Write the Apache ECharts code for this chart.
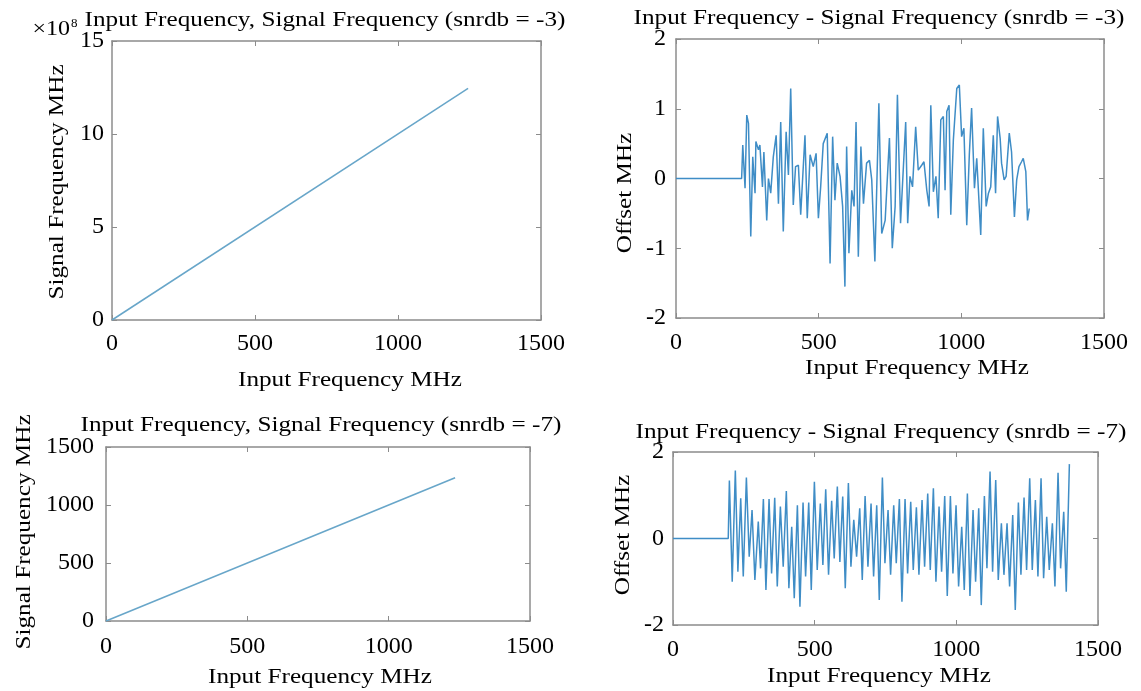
<!DOCTYPE html>
<html>
<head>
<meta charset="utf-8">
<title>Input Frequency / Signal Frequency</title>
<script src="https://cdn.jsdelivr.net/npm/echarts@6/dist/echarts.min.js"></script>
<style>
html,body{margin:0;padding:0;background:#fff}
#main{width:1141px;height:691px}
</style>
</head>
<body>
<div id="main"></div>
<script>
// straight lines: input MHz -> signal frequency (ends)
var lineInput3 = [0, 1245]
var lineSignal3 = [0, 1.245e9]      // Hz, axis shows x10^8
var lineInput7 = [0, 1235]
var lineSignal7 = [0, 1235]

// offset traces, snrdb = -3
var offFreq3 = [0, 230, 234, 242, 248, 254, 262, 269, 277, 280,
  289, 294, 303, 308, 318, 324, 332, 341, 351, 359,
  367, 376, 386, 394, 402, 411, 419, 429, 437, 452,
  460, 470, 481, 491, 499, 507, 516, 530, 540, 549,
  557, 565, 575, 584, 592, 598, 606, 616, 624, 631,
  639, 648, 657, 668, 678, 686, 697, 711, 721, 733,
  748, 758, 768, 776, 787, 797, 805, 812, 820, 829,
  840, 849, 861, 869, 879, 887, 893, 902, 911, 919,
  928, 937, 943, 949, 957, 963, 972, 984, 993, 1001,
  1009, 1019, 1028, 1036, 1046, 1054, 1068, 1077, 1087, 1095,
  1103, 1112, 1120, 1127, 1136, 1141, 1150, 1157, 1168, 1176,
  1186, 1194, 1202, 1211, 1217, 1226, 1232, 1238]
var offVal3 = [0, 0, 0.48, -0.14, 0.91, 0.79, -0.83, 0.31, -0.21, 0.53,
  0.41, 0.48, -0.12, 0.38, -0.60, 0.0, -0.21, 0.31, 0.62, -0.36,
  0.81, -0.76, 0.67, 0.05, 1.29, -0.38, 0.17, 0.19, -0.52, 0.62,
  -0.57, 0.34, 0.17, 0.36, -0.57, -0.12, 0.50, 0.65, -1.22, 0.60,
  -0.31, 0.22, 0.03, -0.40, -1.55, 0.46, -1.07, -0.17, -0.40, 0.81,
  -1.12, 0.46, -0.36, 0.22, 0.26, -0.02, -1.19, 1.08, -0.79, -0.60,
  0.58, -1.00, -0.40, 1.20, -0.64, 0.17, 0.81, -0.64, 0.03, -0.12,
  0.74, 0.12, 0.19, 0.24, -0.17, -0.40, 1.05, -0.19, 0.03, -0.57,
  0.84, 0.89, -0.17, 0.96, 1.05, -0.52, 0.55, 1.29, 1.34, 0.60,
  0.72, -0.67, 0.34, 1.01, -0.14, 0.29, -0.81, 0.72, -0.40, -0.21,
  -0.12, 0.62, -0.21, 0.89, 0.58, 0.22, -0.02, 0.03, 0.65, 0.38,
  -0.55, -0.02, 0.17, 0.24, 0.29, 0.10, -0.60, -0.43]

// offset traces, snrdb = -7
var offFreq7 = [0, 195, 199, 209, 220, 229, 239, 248, 259, 269,
  279, 289, 301, 309, 319, 328, 339, 348, 359, 368,
  379, 389, 400, 409, 419, 428, 439, 448, 459, 468,
  479, 488, 499, 509, 520, 529, 539, 549, 560, 569,
  580, 589, 599, 608, 619, 628, 638, 648, 659, 668,
  678, 688, 699, 708, 719, 728, 739, 748, 759, 768,
  779, 788, 799, 808, 819, 828, 839, 848, 859, 868,
  879, 888, 899, 908, 919, 928, 939, 948, 959, 968,
  979, 988, 999, 1008, 1019, 1028, 1039, 1048, 1059, 1068,
  1079, 1088, 1099, 1108, 1119, 1128, 1139, 1148, 1159, 1168,
  1179, 1188, 1199, 1208, 1219, 1228, 1239, 1248, 1259, 1268,
  1279, 1288, 1299, 1308, 1319, 1328, 1339, 1348, 1359, 1368,
  1379, 1388, 1399]
var offVal7 = [0, 0, 1.34, -1.00, 1.57, -0.77, 0.93, -0.88, 1.41, -0.42,
  0.66, -0.96, 0.39, -0.69, 0.91, -1.19, 0.91, -0.81, 0.94, -1.11,
  0.74, -0.65, 1.10, -1.15, 0.27, -1.38, 0.77, -1.58, 0.83, -0.88,
  0.83, -1.19, 1.31, -0.73, 0.81, -0.61, 1.14, -0.84, 0.87, -0.46,
  1.20, -0.54, 0.97, -1.15, 1.28, -0.65, 0.43, -0.42, 0.70, -0.96,
  0.98, -0.65, 0.81, -0.88, 0.77, -1.42, 1.41, -0.57, 0.66, -0.84,
  0.77, -0.57, 0.91, -1.46, 0.91, -0.81, 0.85, -0.73, 0.72, -0.84,
  0.89, -0.65, 1.04, -0.73, 1.16, -1.00, 0.74, -0.77, 0.98, -1.33,
  0.98, -0.81, 0.77, -1.11, 0.27, -1.19, 1.04, -1.33, 0.66, -1.00,
  0.70, -1.54, 0.98, -0.69, 1.55, -0.77, 1.35, -0.96, 0.35, -0.84,
  0.35, -1.11, 0.54, -1.65, 0.83, -0.84, 0.95, -0.73, 1.39, -0.73,
  0.89, -0.88, 1.39, -0.92, 0.50, -0.73, 0.35, -1.11, 1.52, -0.69,
  0.62, -1.23, 1.72]

var titles = [
  'Input Frequency, Signal Frequency (snrdb = -3)',
  'Input Frequency - Signal Frequency (snrdb = -3)',
  'Input Frequency, Signal Frequency (snrdb = -7)',
  'Input Frequency - Signal Frequency (snrdb = -7)'
]

function zip(a, b){
  var out = []
  a.forEach(function(v, i){ out.push([v, b[i]]) })
  return out
}

var FONT = 'Liberation Serif'
var BOX = '#8c8c8c'

var grids = [
  {left: 112, top: 41, width: 429, height: 279},
  {left: 676, top: 39, width: 428, height: 279},
  {left: 106, top: 447, width: 424, height: 174},
  {left: 673, top: 452, width: 425, height: 173}
]
function plain(v){ return String(v) }
// y ranges per panel
var yr = [
  {min: 0, max: 1.5e9, interval: 5e8, fmt: function(v){ return String(v / 1e8) }},
  {min: -2, max: 2, interval: 1, fmt: plain},
  {min: 0, max: 1500, interval: 500, fmt: plain},
  {min: -2, max: 2, interval: 2, fmt: plain}
]
var xMargin = [12, 13, 14, 13]
var yMargin = [8, 10, 12, 9]

function axisBase(labels, margin, fmt){
  return {
    axisLine: {show: true, onZero: false, lineStyle: {color: BOX, width: 1.5}},
    axisTick: {show: true, inside: true, length: 5, lineStyle: {color: BOX, width: 1}},
    axisLabel: {show: labels, color: '#000', fontFamily: FONT, fontSize: 24, margin: margin, formatter: fmt},
    splitLine: {show: false}
  }
}

var xAxes = [], yAxes = []
grids.forEach(function(g, i){
  ['bottom', 'top'].forEach(function(p){
    var a = axisBase(p == 'bottom', xMargin[i], plain)
    a.type = 'value'; a.gridIndex = i; a.position = p
    a.min = 0; a.max = 1500; a.interval = 500
    xAxes.push(a)
  })
  ;['left', 'right'].forEach(function(p){
    var a = axisBase(p == 'left', yMargin[i], yr[i].fmt)
    a.type = 'value'; a.gridIndex = i; a.position = p
    a.min = yr[i].min; a.max = yr[i].max; a.interval = yr[i].interval
    yAxes.push(a)
  })
})

function serie(i, data, color){
  return {
    type: 'line', xAxisIndex: i * 2, yAxisIndex: i * 2, data: data,
    showSymbol: false, symbol: 'none', animation: false,
    lineStyle: {color: color, width: 1.5}
  }
}

// text looks a bit wider than plain Times, stretch it a little
function txt(x, y, s, size, rot){
  return {
    type: 'text', x: x, y: y, rotation: rot || 0, scaleX: 1.2,
    style: {text: s, fontFamily: FONT, fontSize: size, fill: '#000',
      align: 'center', verticalAlign: 'middle'}
  }
}
var R = Math.PI / 2
var graphics = [
  txt(325, 20, titles[0], 21),
  txt(879, 18, titles[1], 21),
  txt(321, 425, titles[2], 21),
  txt(881, 432, titles[3], 21),
  txt(350, 380, 'Input Frequency MHz', 21),
  txt(917, 368, 'Input Frequency MHz', 21),
  txt(320, 677, 'Input Frequency MHz', 21),
  txt(879, 676, 'Input Frequency MHz', 21),
  txt(57, 182, 'Signal Frequency MHz', 21, R),
  txt(625, 193, 'Offset MHz', 21, R),
  txt(24, 532, 'Signal Frequency MHz', 21, R),
  txt(623, 535, 'Offset MHz', 21, R),
  {type: 'text', x: 70, y: 30, scaleX: 1.2,
    style: {text: '×10', fontFamily: FONT, fontSize: 20, fill: '#000', align: 'right', verticalAlign: 'middle'}},
  {type: 'text', x: 71, y: 24,
    style: {text: '8', fontFamily: FONT, fontSize: 13, fill: '#000', align: 'left', verticalAlign: 'middle'}}
]

var chart = echarts.init(document.getElementById('main'))
chart.setOption({
  backgroundColor: '#fff',
  animation: false,
  grid: grids,
  xAxis: xAxes,
  yAxis: yAxes,
  series: [
    serie(0, zip(lineInput3, lineSignal3), '#68a6c9'),
    serie(1, zip(offFreq3, offVal3), '#3f8dc6'),
    serie(2, zip(lineInput7, lineSignal7), '#68a6c9'),
    serie(3, zip(offFreq7, offVal7), '#3f8dc6')
  ],
  graphic: graphics
})
</script>
</body>
</html>
